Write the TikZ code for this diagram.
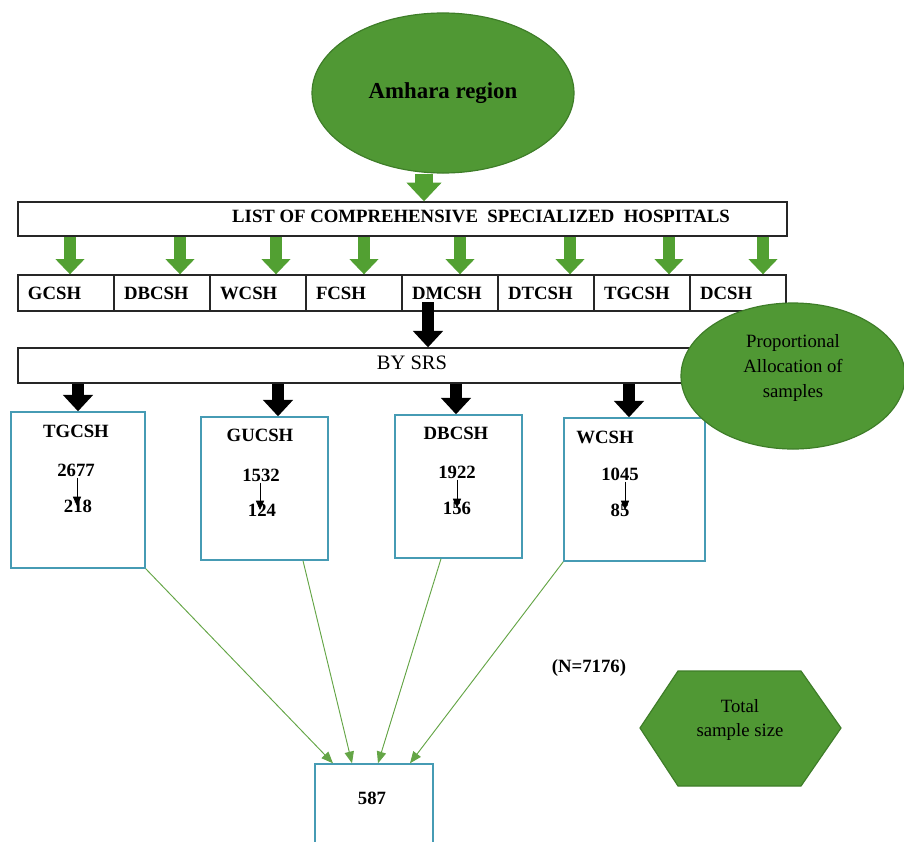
\documentclass[tikz,border=0pt]{standalone}
\usepackage{fontspec}
\setmainfont{Liberation Serif}
\usetikzlibrary{arrows.meta,shapes.geometric}
\definecolor{amgreen}{RGB}{80,152,52}
\definecolor{amborder}{RGB}{62,125,40}
\definecolor{arrowgreen}{RGB}{82,160,50}
\definecolor{boxteal}{RGB}{70,155,180}
\definecolor{linkgreen}{RGB}{100,165,70}
\begin{document}
\begin{tikzpicture}[x=0.03cm, y=-0.03cm,
    bold/.style={font=\bfseries\fontsize{16}{19}\selectfont},
    plain/.style={font=\fontsize{16}{21}\selectfont},
    bar/.style={draw=black!85, line width=1.1pt, inner sep=0pt},
    cell/.style={bar, bold, text width=2.28cm, inner xsep=0.3cm, minimum height=1.08cm, align=left},
    sbox/.style={draw=boxteal, line width=1.2pt, inner sep=0pt},
    greenarrow/.style={draw=arrowgreen, line width=11pt, -{Triangle[width=24pt,length=13pt]}},
    blackarrow/.style={draw=black, line width=10pt, -{Triangle[width=25pt,length=14pt]}},
    smallarrow/.style={draw=black, line width=0.7pt, -{Triangle[width=7pt,length=8pt]}},
    thinarrow/.style={draw=linkgreen, line width=0.8pt, -{Triangle[width=8pt,length=10pt]}}]
    \useasboundingbox (0,0) rectangle (904,841);

    % Region
    \node[ellipse, draw=amborder, fill=amgreen, line width=1pt, minimum width=7.86cm, minimum height=4.8cm,
          font=\bfseries\fontsize{19.5}{23}\selectfont] (amhara) at (443,93) {Amhara region};

    % List of hospitals
    \node[bar, minimum width=23.07cm, minimum height=1.02cm] (list) at (402.5,219) {};
    \node[bold] (listtext) at (481,216) {LIST OF COMPREHENSIVE\ \ SPECIALIZED\ \ HOSPITALS};
    \draw[greenarrow, line width=15pt, -{Triangle[width=29pt,length=16pt]}] (amhara.south -| 424,0) -- (list.north -| 424,0);

    % Hospitals
    \foreach \n/\t [count=\i from 0] in {gcsh/GCSH, dbcsh/DBCSH, wcsh/WCSH, fcsh/FCSH, dmcsh/DMCSH, dtcsh/DTCSH, tgcsh/TGCSH, dcsh/DCSH}
        \node[cell] (\n) at (66+96*\i, 293) {\t};
    \foreach \n/\x in {gcsh/70, dbcsh/180, wcsh/276, fcsh/364, dmcsh/460, dtcsh/570, tgcsh/669, dcsh/763}
        \draw[greenarrow] (list.south -| \x,0) -- (\n.north -| \x,0);

    % By SRS
    \node[bar, minimum width=23.07cm, minimum height=1.05cm] (bysrs) at (402.5,365.5) {};
    \node[font=\fontsize{17.5}{21}\selectfont] (bysrstext) at (412,363) {BY SRS};
    \draw[blackarrow] ([yshift=8pt]dmcsh.south -| 428,0) -- (bysrs.north -| 428,0);

    % Selected hospitals
    \node[sbox, minimum width=4.02cm, minimum height=4.68cm] (tgbox) at (78,490) {};
    \node[sbox, minimum width=3.81cm, minimum height=4.29cm] (gubox) at (264.5,488.5) {};
    \node[sbox, minimum width=3.81cm, minimum height=4.29cm] (dbbox) at (458.5,486.5) {};
    \node[sbox, minimum width=4.23cm, minimum height=4.29cm] (wbox) at (634.5,489.5) {};
    \draw[blackarrow] (bysrs.south -| 78,0) -- (tgbox.north -| 78,0);
    \draw[blackarrow] (bysrs.south -| 278,0) -- (gubox.north -| 278,0);
    \draw[blackarrow] (bysrs.south -| 456,0) -- (dbbox.north -| 456,0);
    \draw[blackarrow] (bysrs.south -| 629,0) -- (wbox.north -| 629,0);

    % Population and sample per hospital
    \node[bold] (tgname) at (76,431) {TGCSH};
    \node[bold, inner sep=1pt] (tgpop) at (76,470) {2677};
    \node[bold, inner sep=1pt] (tgn) at (78,506) {218};
    \node[bold] (guname) at (260,435) {GUCSH};
    \node[bold, inner sep=1pt] (gupop) at (261,475) {1532};
    \node[bold, inner sep=1pt] (gun) at (262,510) {124};
    \node[bold] (dbname) at (456,433) {DBCSH};
    \node[bold, inner sep=1pt] (dbpop) at (457,472) {1922};
    \node[bold, inner sep=1pt] (dbn) at (457,508) {156};
    \node[bold] (wname) at (605,437) {WCSH};
    \node[bold, inner sep=1pt] (wpop) at (620,474) {1045};
    \node[bold, inner sep=1pt] (wn) at (620,510) {85};
    \draw[smallarrow] (tgpop.south -| 77,0) -- (tgn.center -| 77,0);
    \draw[smallarrow] (gupop.south -| 260,0) -- (gun.center -| 260,0);
    \draw[smallarrow] (dbpop.south -| 457,0) -- (dbn.center -| 457,0);
    \draw[smallarrow] (wpop.south -| 625,0) -- (wn.center -| 625,0);

    % Total sample
    \node[sbox, minimum width=3.54cm, minimum height=3.18cm] (final) at (374,817) {};
    \node[bold] (finaltext) at (372,798) {587};
    \draw[thinarrow] (tgbox.south east) -- (final.north -| 333,0);
    \draw[thinarrow] (gubox.south -| 303,0) -- (final.north -| 352,0);
    \draw[thinarrow] (dbbox.south -| 441,0) -- (final.north -| 378,0);
    \draw[thinarrow] (wbox.south west) -- (final.north -| 410,0);

    % Proportional allocation
    \node[ellipse, draw=amborder, fill=amgreen, line width=1pt, minimum width=6.72cm, minimum height=4.38cm] (prop) at (793,376) {};
    \node[plain, align=center] (proptext) at (793,368) {Proportional\\Allocation of\\samples};

    % Legend
    \node[bold] (popsize) at (589,668) {(N=7176)};
    \draw[fill=amgreen, draw=amborder, line width=1pt] (640,728) -- (678,671) -- (801,671) -- (841,728) -- (801,786) -- (678,786) -- cycle;
    \node[plain, align=center, font=\fontsize{16}{20.5}\selectfont] (total) at (740,720) {Total\\sample size};
\end{tikzpicture}
\end{document}
